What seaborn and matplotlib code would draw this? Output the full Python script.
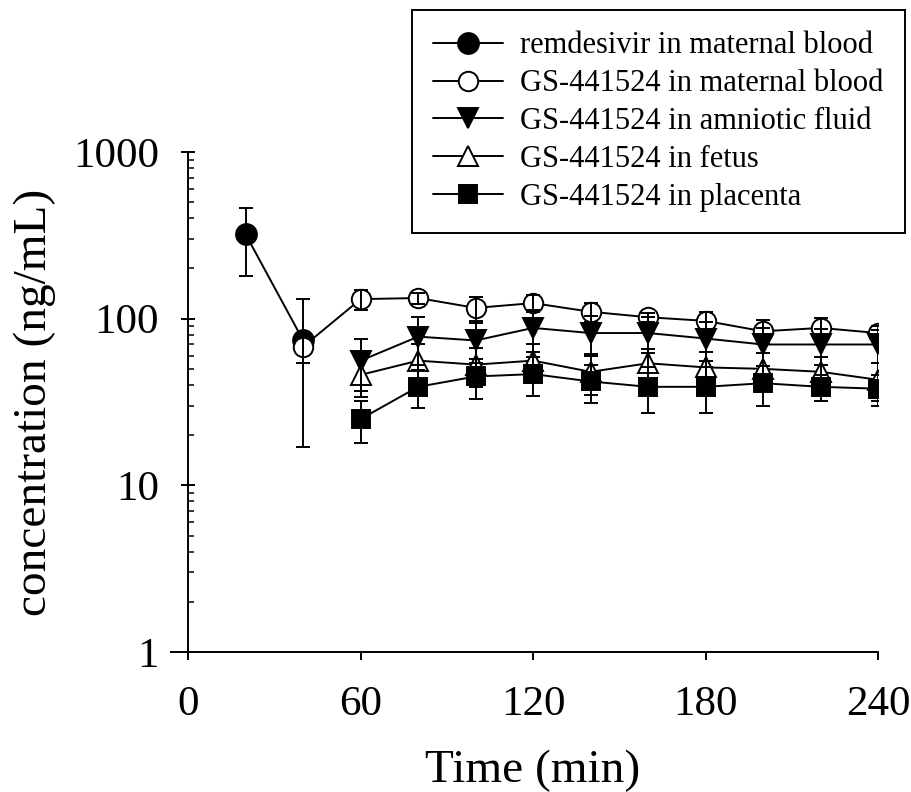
import numpy as np
import pandas as pd
import seaborn as sns
import matplotlib
matplotlib.use('Agg')
import matplotlib.pyplot as plt
from matplotlib import ticker

# Data (mean and SD, ng/mL)
t_rem = [20, 40]
rem_mean = [320, 74]
rem_sd = [140, 57]

t_gs_blood = [40, 60, 80, 100, 120, 140, 160, 180, 200, 220, 240]
gs_blood_mean = [68, 131, 133, 116, 124, 110, 102, 97, 84, 88, 82]
gs_blood_sd = [14, 18, 10, 19, 15, 14, 6, 12, 14, 13, 8]

t_tissue = [60, 80, 100, 120, 140, 160, 180, 200, 220, 240]
amnio_mean = [56, 78, 74, 88, 82, 82, 76, 70, 70, 70]
amnio_sd = [19, 25, 20, 25, 22, 20, 20, 18, 17, 16]
fetus_mean = [46, 56, 53, 56, 48, 54, 51, 50, 48, 43]
fetus_sd = [12, 14, 14, 14, 13, 12, 12, 12, 11, 11]
plac_mean = [25, 39, 45, 46.5, 42, 39, 39, 41, 39, 38]
plac_sd = [7, 10, 12, 12, 11, 12, 12, 11, 7, 8]

labels = ['remdesivir in maternal blood', 'GS-441524 in maternal blood',
          'GS-441524 in amniotic fluid', 'GS-441524 in fetus',
          'GS-441524 in placenta']
x_ticks = [0, 60, 120, 180, 240]
y_ticks = [1, 10, 100, 1000]
y_ticklabels = ['1', '10', '100', '1000']

series = [
    (t_rem, rem_mean, rem_sd, 'o', 'black', 15),
    (t_gs_blood, gs_blood_mean, gs_blood_sd, 'o', 'white', 14),
    (t_tissue, amnio_mean, amnio_sd, 'v', 'black', 14),
    (t_tissue, fetus_mean, fetus_sd, '^', 'white', 14),
    (t_tissue, plac_mean, plac_sd, 's', 'black', 13),
]

sns.set_style('ticks')
plt.rcParams['font.family'] = ['Liberation Serif', 'DejaVu Serif']
for k in ['text.color', 'axes.labelcolor', 'xtick.color', 'ytick.color', 'axes.edgecolor']:
    plt.rcParams[k] = 'black'

fig = plt.figure(figsize=(9.12, 7.92), dpi=100)
ax = fig.add_axes([171 / 912, 1 - 652 / 792, 707 / 912, 500 / 792])

lw = 1.4
for (t, m, sd, mk, fc, ms), lab in zip(series, labels):
    df = pd.DataFrame({'t': t, 'c': m})
    sns.lineplot(data=df, x='t', y='c', ax=ax, color='black', lw=lw,
                 marker=mk, markerfacecolor=fc, markeredgecolor='black',
                 markeredgewidth=lw, markersize=ms, zorder=3, label=lab)
    ax.errorbar(t, m, yerr=sd, fmt='none', ecolor='black', elinewidth=lw,
                capsize=5, capthick=lw, zorder=4)

ax.set_yscale('log')
ax.set_ylim(1, 1000)
ax.set_xlim(-6, 240)
ax.spines['left'].set_position(('data', 0))
ax.spines['top'].set_visible(False)
ax.spines['right'].set_visible(False)
for s in ['left', 'bottom']:
    ax.spines[s].set_linewidth(lw)

ax.set_xticks(x_ticks)
ax.set_yticks(y_ticks)
ax.set_yticklabels(y_ticklabels)
ax.yaxis.set_minor_locator(ticker.LogLocator(base=10, subs=np.arange(2, 10)))
ax.yaxis.set_minor_formatter(ticker.NullFormatter())
ax.tick_params(axis='x', direction='out', length=6, width=lw, labelsize=31, pad=18)
ax.tick_params(axis='y', which='major', direction='inout', length=10, width=lw,
               labelsize=31, pad=16)
ax.tick_params(axis='y', which='minor', direction='in', length=4, width=1.1)

ax.set_xlabel('Time (min)', fontsize=34)
ax.xaxis.set_label_coords((533 - 171) / 707, -0.196)
ax.set_ylabel('concentration (ng/mL)', fontsize=34, labelpad=12)

ax.get_legend().remove()
h, l = ax.get_legend_handles_labels()
leg = fig.legend(h, l, loc='upper right', bbox_to_anchor=(905 / 912, 1 - 10 / 792),
                 fontsize=22, frameon=True, fancybox=False, edgecolor='black',
                 handlelength=2.3, labelspacing=0.29, borderpad=0.7,
                 handletextpad=0.55, borderaxespad=0)
leg.get_frame().set_linewidth(lw)
leg.get_frame().set_alpha(1)

fig.savefig('out.png', dpi=100)
